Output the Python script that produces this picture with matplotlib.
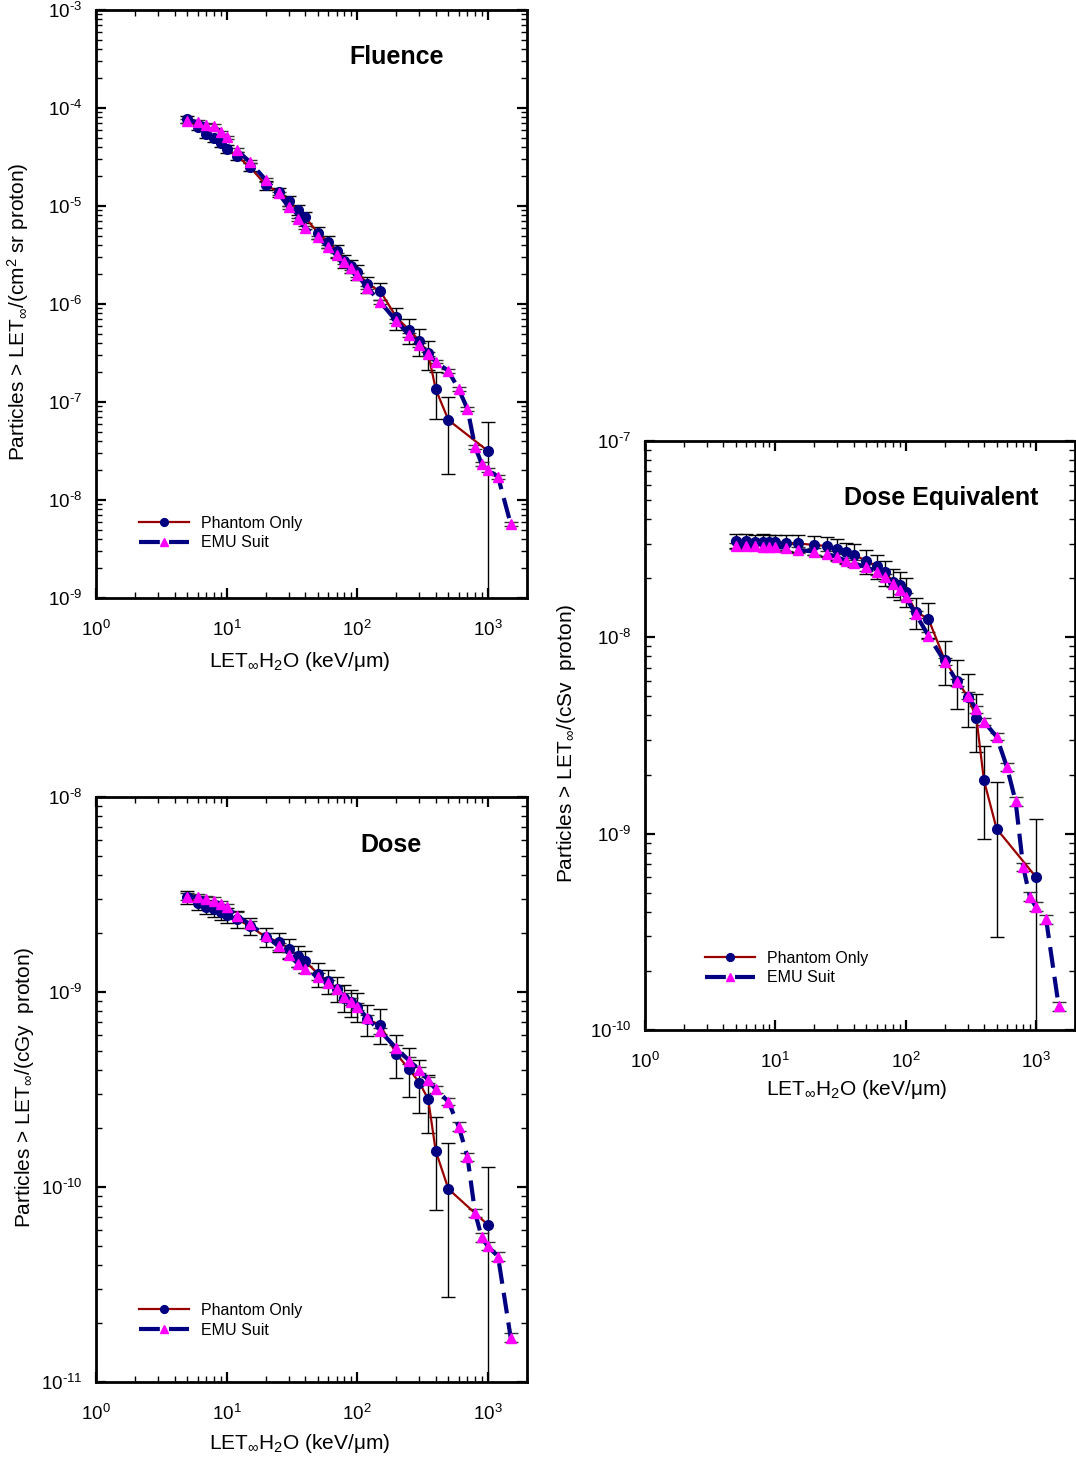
import matplotlib
matplotlib.use('Agg')
import numpy as np
import matplotlib.pyplot as plt
from matplotlib.ticker import LogLocator, NullFormatter, FuncFormatter

plt.rcParams['font.family'] = ['Liberation Sans', 'DejaVu Sans']
plt.rcParams['mathtext.fontset'] = 'custom'
plt.rcParams['mathtext.rm'] = 'Liberation Sans'
plt.rcParams['mathtext.it'] = 'Liberation Sans:italic'
plt.rcParams['mathtext.bf'] = 'Liberation Sans:bold'
plt.rcParams['axes.unicode_minus'] = False

# LET values (keV/um)
let_phantom = [5, 6, 7, 8, 9, 10, 12, 15, 20, 25, 30, 35, 40, 50, 60, 70, 80, 90,
               100, 120, 150, 200, 250, 300, 350, 400, 500, 1000]
let_emu = [5, 6, 7, 8, 9, 10, 12, 15, 20, 25, 30, 35, 40, 50, 60, 70, 80, 90,
           100, 120, 150, 200, 250, 300, 350, 400, 500, 600, 700, 800, 900, 1000, 1200, 1500]

# relative (1 sigma) uncertainties
relerr_phantom = [0.08, 0.08, 0.08, 0.09, 0.09, 0.09, 0.10, 0.10, 0.11, 0.11, 0.12, 0.12, 0.13, 0.14,
                  0.14, 0.15, 0.16, 0.16, 0.17, 0.18, 0.20, 0.25, 0.28, 0.30, 0.33, 0.50, 0.72, 0.98]
relerr_emu = [0.04] * 27 + [0.05, 0.05, 0.05, 0.05, 0.05, 0.05, 0.05]

fluence_phantom = [7.73e-5, 6.44e-5, 5.40e-5, 4.91e-5, 4.37e-5, 3.82e-5, 3.24e-5, 2.52e-5, 1.64e-5,
                   1.38e-5, 1.13e-5, 9.1e-6, 7.66e-6, 5.35e-6, 4.33e-6, 3.50e-6, 2.75e-6, 2.44e-6,
                   2.14e-6, 1.59e-6, 1.36e-6, 7.31e-7, 5.43e-7, 4.23e-7, 3.14e-7, 1.35e-7, 6.55e-8, 3.18e-8]
fluence_emu = [7.36e-5, 7.24e-5, 6.71e-5, 6.55e-5, 5.65e-5, 5.02e-5, 3.72e-5, 2.83e-5, 1.84e-5,
               1.35e-5, 9.68e-6, 7.31e-6, 6.01e-6, 4.79e-6, 3.85e-6, 3.16e-6, 2.66e-6, 2.31e-6,
               1.98e-6, 1.47e-6, 1.05e-6, 6.71e-7, 4.83e-7, 3.82e-7, 3.09e-7, 2.58e-7, 2.07e-7,
               1.35e-7, 8.49e-8, 3.50e-8, 2.33e-8, 2.02e-8, 1.73e-8, 5.69e-9]

dose_phantom = [3.06e-9, 2.87e-9, 2.74e-9, 2.65e-9, 2.57e-9, 2.48e-9, 2.36e-9, 2.18e-9, 1.91e-9,
                1.81e-9, 1.67e-9, 1.53e-9, 1.44e-9, 1.24e-9, 1.14e-9, 1.04e-9, 9.35e-10, 8.85e-10,
                8.41e-10, 7.24e-10, 6.78e-10, 4.81e-10, 4.02e-10, 3.43e-10, 2.82e-10, 1.53e-10,
                9.77e-11, 6.41e-11]
dose_emu = [3.08e-9, 3.06e-9, 2.99e-9, 2.94e-9, 2.82e-9, 2.72e-9, 2.46e-9, 2.23e-9, 1.94e-9,
            1.72e-9, 1.55e-9, 1.40e-9, 1.31e-9, 1.20e-9, 1.11e-9, 1.03e-9, 9.46e-10, 8.91e-10,
            8.41e-10, 7.33e-10, 6.31e-10, 5.14e-10, 4.45e-10, 3.98e-10, 3.54e-10, 3.17e-10,
            2.74e-10, 2.04e-10, 1.43e-10, 7.38e-11, 5.52e-11, 4.98e-11, 4.40e-11, 1.69e-11]

doseeq_phantom = [3.10e-8, 3.10e-8, 3.07e-8, 3.07e-8, 3.05e-8, 3.05e-8, 3.03e-8, 3.01e-8, 2.95e-8,
                  2.92e-8, 2.82e-8, 2.71e-8, 2.64e-8, 2.45e-8, 2.31e-8, 2.14e-8, 1.92e-8, 1.85e-8,
                  1.71e-8, 1.35e-8, 1.24e-8, 7.66e-9, 6.01e-9, 4.98e-9, 3.89e-9, 1.87e-9, 1.06e-9, 6.03e-10]
doseeq_emu = [2.92e-8, 2.92e-8, 2.91e-8, 2.90e-8, 2.90e-8, 2.90e-8, 2.86e-8, 2.79e-8, 2.73e-8,
              2.66e-8, 2.56e-8, 2.45e-8, 2.38e-8, 2.28e-8, 2.16e-8, 2.02e-8, 1.88e-8, 1.74e-8,
              1.61e-8, 1.31e-8, 1.02e-8, 7.52e-9, 5.90e-9, 5.05e-9, 4.30e-9, 3.72e-9, 3.12e-9,
              2.19e-9, 1.46e-9, 6.78e-10, 4.78e-10, 4.25e-10, 3.67e-10, 1.32e-10]

RED = '#990000'
NAVY = '#000080'
MAGENTA = '#ff00ff'

fig = plt.figure(figsize=(10.76, 14.6), dpi=100)

W, H = 1076.0, 1460.0


def make_ax(left, top, right, bottom):
    return fig.add_axes([left / W, 1 - bottom / H, (right - left) / W, (bottom - top) / H])


def pow10(v, pos):
    # plain hyphen in the exponent, like the original
    e = int(round(np.log10(v)))
    return r'10$^{\text{%d}}$' % e


def draw_panel(ax, y_ph, y_emu, ylim, title, title_xy, ylabel, ylabel_x, ylabel_y, xlabel_xy, leg_xy):
    err_ph = [v * e for v, e in zip(y_ph, relerr_phantom)]
    err_emu = [v * e for v, e in zip(y_emu, relerr_emu)]

    ax.errorbar(let_phantom, y_ph, yerr=err_ph, fmt='none', ecolor='black',
                elinewidth=1.0, capsize=5, capthick=1.0, zorder=2)
    ax.errorbar(let_emu, y_emu, yerr=err_emu, fmt='none', ecolor='#333333',
                elinewidth=1.0, capsize=5, capthick=1.0, zorder=2)
    ax.plot(let_phantom, y_ph, color=RED, lw=1.6, marker='o', ms=7,
            mfc=NAVY, mec=NAVY, label='Phantom Only', zorder=3)
    ax.plot(let_emu, y_emu, color=NAVY, lw=3.0, dashes=(5, 2.2), marker='^', ms=6.5,
            mfc=MAGENTA, mec=MAGENTA, label='EMU Suit', zorder=4)

    ax.set_xscale('log')
    ax.set_yscale('log')
    ax.set_xlim(1, 2000)
    ax.set_ylim(*ylim)

    ax.xaxis.set_major_locator(LogLocator(base=10, numticks=10))
    ax.xaxis.set_minor_locator(LogLocator(base=10, subs=range(2, 10), numticks=20))
    ax.yaxis.set_major_locator(LogLocator(base=10, numticks=10))
    ax.yaxis.set_minor_locator(LogLocator(base=10, subs=range(2, 10), numticks=20))
    ax.xaxis.set_major_formatter(FuncFormatter(pow10))
    ax.yaxis.set_major_formatter(FuncFormatter(pow10))
    ax.xaxis.set_minor_formatter(NullFormatter())
    ax.yaxis.set_minor_formatter(NullFormatter())

    ax.tick_params(which='both', direction='in', top=True, right=True)
    ax.tick_params(which='major', length=7, width=1.6, labelsize=13.5)
    ax.tick_params(which='minor', length=4, width=1.0)
    ax.tick_params(axis='x', which='major', pad=16)
    ax.tick_params(axis='y', which='major', pad=10)
    for sp in ax.spines.values():
        sp.set_linewidth(2.0)

    ax.text(title_xy[0], title_xy[1], title, transform=ax.transAxes, ha='center', va='center',
            fontsize=18, fontweight='bold')

    ax.set_ylabel(ylabel, fontsize=15)
    ax.yaxis.set_label_coords(ylabel_x, ylabel_y)
    ax.set_xlabel(r'LET$_{\infty}$H$_2$O (keV/$\mathrm{\mu}$m)', fontsize=15)
    ax.xaxis.set_label_coords(xlabel_xy[0], xlabel_xy[1])

    ax.legend(loc='lower left', bbox_to_anchor=leg_xy, frameon=False, fontsize=11.5,
              handlelength=3.1, handletextpad=0.8, labelspacing=0.3, numpoints=1,
              markerscale=0.8, borderaxespad=0)


ax1 = make_ax(96, 10, 527, 598)
draw_panel(ax1, fluence_phantom, fluence_emu, (1e-9, 1e-3), 'Fluence', (0.698, 0.92),
           r'Particles > LET$_{\infty}$/(cm$^2$ sr proton)', -0.15, 0.486, (0.473, -0.088),
           (0.085, 0.07))

ax2 = make_ax(96, 797, 527, 1382)
draw_panel(ax2, dose_phantom, dose_emu, (1e-11, 1e-8), 'Dose', (0.684, 0.918),
           r'Particles > LET$_{\infty}$/(cGy  proton)', -0.14, 0.504, (0.473, -0.086),
           (0.085, 0.065))

ax3 = make_ax(645, 441, 1075, 1030)
draw_panel(ax3, doseeq_phantom, doseeq_emu, (1e-10, 1e-7), 'Dose Equivalent', (0.688, 0.903),
           r'Particles > LET$_{\infty}$/(cSv  proton)', -0.156, 0.486, (0.493, -0.082),
           (0.125, 0.065))

fig.savefig('out.png', dpi=100)
